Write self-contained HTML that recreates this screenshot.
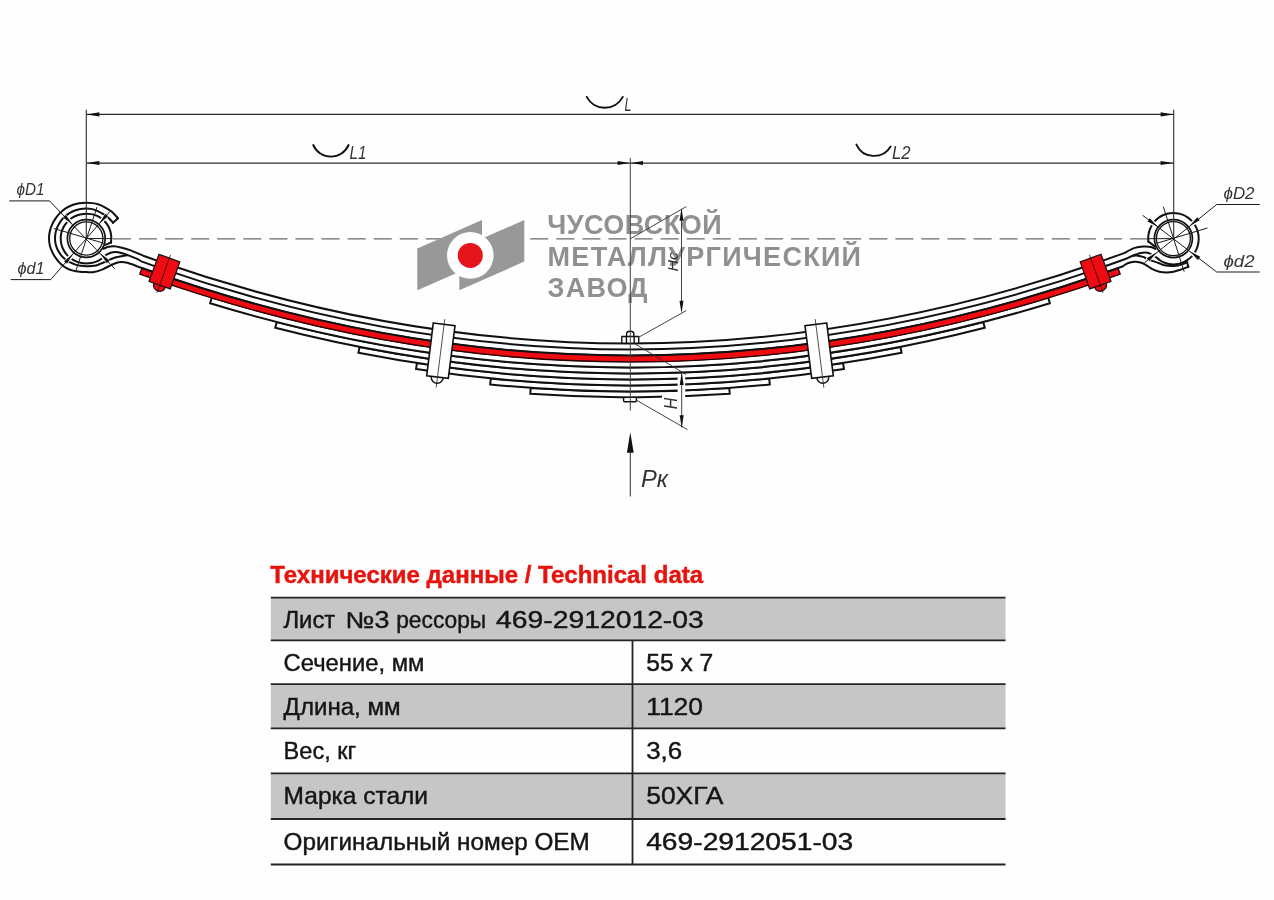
<!DOCTYPE html>
<html lang="ru"><head><meta charset="utf-8"><title>Лист №3 рессоры 469-2912012-03</title>
<style>
html,body{margin:0;padding:0;background:#fefefe;}
svg{display:block;font-family:"Liberation Sans","DejaVu Sans",sans-serif;}
svg{will-change:transform;}
</style></head><body>
<svg width="1274" height="900" viewBox="0 0 1274 900">
<rect width="1274" height="900" fill="#fefefe"/>
<g id="axis">
<line x1="112.9" y1="238.8" x2="1148" y2="238.8" stroke="#6a6a6a" stroke-width="1.35" stroke-dasharray="18.1 7.98"/>
</g>
<g id="logo">
<polygon points="417.3,248.4 482,220.1 482,262 417.3,290.2" fill="#989898"/>
<polygon points="459.3,248.4 524.3,220.1 524.3,261.6 459.3,290.2" fill="#989898"/>
<circle cx="470.3" cy="255.4" r="23.3" fill="#fefefe"/>
<circle cx="470.3" cy="255.4" r="12.5" fill="#e8141c"/>
<text x="547.2" y="234.4" font-size="27" font-weight="bold" font-style="normal" fill="#909090" textLength="174.4" lengthAdjust="spacing">ЧУСОВСКОЙ</text>
<text x="547.6" y="265.5" font-size="27" font-weight="bold" font-style="normal" fill="#909090" textLength="313.4" lengthAdjust="spacing">МЕТАЛЛУРГИЧЕСКИЙ</text>
<text x="547.6" y="296.8" font-size="27" font-weight="bold" font-style="normal" fill="#909090" textLength="100" lengthAdjust="spacing">ЗАВОД</text>
</g>
<g id="spring" stroke-linejoin="miter">
<path d="M530.71 387.88Q630 394.92 729.29 387.88L729.71 393.86Q630 400.94 530.29 393.86Z" fill="#fefefe" stroke="#111" stroke-width="2.0" />
<path d="M490.8 378.45Q630 392.35 769.2 378.45L769.8 384.42Q630 398.38 490.2 384.42Z" fill="#fefefe" stroke="#111" stroke-width="2.0" />
<path d="M416.96 363.04Q630 395.77 843.04 363.04L843.96 368.97Q630 401.84 416.04 368.97Z" fill="#fefefe" stroke="#111" stroke-width="2.0" />
<path d="M359.58 346.92Q630 399.89 900.42 346.92L901.58 352.81Q630 406 358.42 352.81Z" fill="#fefefe" stroke="#111" stroke-width="2.0" />
<path d="M276.75 322.02Q630 412.8 983.25 322.02L984.75 327.83Q630 419 275.25 327.83Z" fill="#fefefe" stroke="#111" stroke-width="2.0" />
<path d="M211.88 297.55Q630 425.29 1048.12 297.55L1049.88 303.28Q630 431.56 210.12 303.28Z" fill="#fefefe" stroke="#111" stroke-width="2.0" />
<path d="M132 251.64Q630 435.16 1128 251.64L1130.07 257.27Q630 441.56 129.93 257.27Z" fill="#fefefe" stroke="none" stroke-width="0.01" />
<path d="M129.93 257.27Q630 441.56 1130.07 257.27L1132.15 262.9Q630 447.95 127.85 262.9Z" fill="#fefefe" stroke="none" stroke-width="0.01" />
<path d="M142.05 267.95Q630 442.69 1117.95 267.95L1120.18 274.16Q630 449.7 139.82 274.16Z" fill="#ee0b12" stroke="#2a0000" stroke-width="1.3" />
</g>
<g id="eyes" fill="none" stroke="#111" stroke-width="2.0" stroke-linecap="round" stroke-linejoin="round">
<path d="M118.01 218.3C116.98 217.22 114.11 213.68 111.85 211.81C109.59 209.94 106.65 208.28 104.45 207.06C102.25 205.85 100.66 205.16 98.67 204.51C96.69 203.85 94.6 203.42 92.54 203.12C90.48 202.82 88.51 202.67 86.3 202.7C84.09 202.73 81.6 202.88 79.29 203.27C76.98 203.67 74.66 204.24 72.45 205.06C70.24 205.87 68.04 206.9 66.03 208.17C64.03 209.43 62.13 210.96 60.42 212.62C58.71 214.28 57.16 216.15 55.78 218.11C54.41 220.07 53.16 222.17 52.16 224.36C51.17 226.55 50.34 228.89 49.82 231.24C49.29 233.6 48.99 236.08 49 238.5C49.01 240.92 49.33 243.4 49.9 245.74C50.48 248.08 51.39 250.38 52.44 252.53C53.49 254.67 54.81 256.7 56.21 258.61C57.61 260.51 59.13 262.37 60.84 263.96C62.56 265.54 64.47 267.02 66.49 268.14C68.52 269.26 70.79 270.04 72.98 270.65C75.18 271.26 77.46 271.56 79.68 271.8C81.9 272.04 83.91 272.06 86.3 272.1C88.69 272.14 91.31 272.48 94.04 272.02C96.77 271.55 99.91 270.43 102.68 269.31C105.46 268.2 108.48 266.35 110.7 265.3C112.92 264.25 114.23 263.55 116 263C117.77 262.45 119.42 262.05 121.3 262C123.18 261.95 125.18 262.2 127.3 262.7C129.42 263.2 132.4 264.42 134 265C135.6 265.58 136.43 266.01 136.92 266.21L136.92 266.21Q147.49 270.04 158.07 273.7"/>
<path d="M112.98 222.72C112.21 221.89 110.04 219.18 108.35 217.72C106.66 216.26 104.62 215.07 102.85 213.96C101.09 212.85 99.53 211.88 97.76 211.07C95.98 210.26 94.1 209.55 92.19 209.11C90.28 208.66 88.26 208.43 86.3 208.4C84.34 208.37 82.35 208.58 80.42 208.93C78.49 209.29 76.56 209.82 74.71 210.53C72.87 211.23 71.06 212.12 69.37 213.16C67.68 214.21 66.06 215.43 64.59 216.79C63.13 218.15 61.76 219.68 60.58 221.32C59.41 222.95 58.37 224.74 57.54 226.59C56.72 228.44 56.07 230.42 55.65 232.4C55.22 234.39 54.99 236.47 55 238.5C55.01 240.53 55.26 242.62 55.74 244.58C56.21 246.54 56.96 248.49 57.87 250.28C58.78 252.06 59.94 253.76 61.2 255.27C62.46 256.79 63.92 258.16 65.44 259.36C66.96 260.56 68.62 261.59 70.29 262.46C71.97 263.33 73.74 264.02 75.5 264.58C77.26 265.14 79.07 265.53 80.87 265.8C82.67 266.07 84.58 266.15 86.3 266.2C88.02 266.25 89.53 266.22 91.17 266.1C92.8 265.97 94.5 265.86 96.11 265.45C97.71 265.03 99.15 264.27 100.8 263.61C102.45 262.96 104.25 262.27 106 261.5C107.75 260.73 109.63 259.7 111.3 259C112.97 258.3 114.43 257.75 116 257.3C117.57 256.85 119.37 256.55 120.7 256.3C122.03 256.05 122.87 255.98 124 255.8C125.13 255.62 126.92 255.3 127.5 255.2"/>
<path d="M118.01 218.3L112.98 222.72"/>
<path d="M110.92 242.84C110.99 242.04 111.33 239.66 111.32 238.06C111.3 236.47 111.13 234.85 110.82 233.29C110.51 231.72 110.04 230.16 109.43 228.68C108.83 227.2 108.06 225.75 107.18 224.42C106.29 223.09 105.27 221.82 104.12 220.68C102.97 219.54 101.64 218.48 100.27 217.6C98.89 216.72 97.39 215.98 95.87 215.4C94.35 214.82 92.74 214.4 91.15 214.12C89.56 213.84 87.92 213.7 86.3 213.7C84.68 213.7 83.05 213.85 81.46 214.15C79.87 214.44 78.28 214.89 76.76 215.48C75.25 216.07 73.77 216.81 72.38 217.67C71 218.54 69.68 219.56 68.48 220.68C67.29 221.8 66.17 223.07 65.22 224.41C64.27 225.76 63.42 227.23 62.76 228.75C62.09 230.26 61.56 231.89 61.22 233.51C60.88 235.14 60.7 236.84 60.7 238.5C60.7 240.16 60.88 241.86 61.21 243.49C61.55 245.12 62.07 246.74 62.73 248.26C63.39 249.78 64.22 251.27 65.17 252.62C66.12 253.97 67.22 255.25 68.41 256.39C69.6 257.53 70.93 258.56 72.31 259.44C73.69 260.32 75.18 261.08 76.7 261.68C78.22 262.28 79.82 262.74 81.42 263.04C83.02 263.35 84.64 263.5 86.3 263.5C87.96 263.5 89.71 263.36 91.37 263.06C93.04 262.75 94.72 262.3 96.29 261.66C97.86 261.02 99.31 260.28 100.81 259.22C102.31 258.16 103.65 256.39 105.3 255.3C106.95 254.21 108.92 253.25 110.7 252.7C112.48 252.15 114.23 251.95 116 252C117.77 252.05 119.42 252.5 121.3 253C123.18 253.5 124.85 254.1 127.3 255C129.75 255.9 133.56 257.29 136 258.4C138.44 259.51 140.97 261.11 141.97 261.65L141.97 261.65Q151 264.9 160.04 268.03"/>
<path d="M111.2 242.4L105.4 244.9"/>
<path d="M103.6 248.6C104.45 248.28 106.97 247.08 108.7 246.7C110.43 246.32 112 246.17 114 246.3C116 246.43 117.92 246.82 120.7 247.5C123.48 248.18 126.82 248.98 130.7 250.4C134.58 251.82 141.78 255.07 144 256.01L144 256.01Q153 259.24 162 262.36"/>
<circle cx="86.3" cy="238.5" r="18.9" stroke-width="1.7"/>
<circle cx="86.3" cy="238.5" r="16.6" stroke-width="1.3"/>
<path d="M158 260.97Q630 425.83 1102 260.97"/>
<path d="M156.02 266.63Q630 432.19 1103.98 266.63"/>
<path d="M154.04 272.3Q630 438.54 1105.96 272.3"/>
<path d="M1148.39 241.67C1148.37 240.78 1148.14 238.11 1148.28 236.35C1148.43 234.59 1148.76 232.8 1149.26 231.11C1149.77 229.41 1150.46 227.72 1151.31 226.16C1152.15 224.6 1153.18 223.09 1154.34 221.74C1155.5 220.38 1156.83 219.12 1158.25 218.03C1159.67 216.95 1161.25 215.99 1162.87 215.23C1164.5 214.48 1166.25 213.88 1168.01 213.49C1169.76 213.1 1171.67 212.91 1173.4 212.9C1175.13 212.89 1176.78 213.07 1178.41 213.41C1180.05 213.74 1181.68 214.26 1183.21 214.91C1184.75 215.56 1186.24 216.39 1187.61 217.33C1188.98 218.28 1190.28 219.38 1191.43 220.57C1192.59 221.76 1193.64 223.09 1194.54 224.48C1195.44 225.86 1196.21 227.36 1196.83 228.9C1197.44 230.43 1197.92 232.04 1198.23 233.66C1198.54 235.28 1198.7 236.95 1198.7 238.6C1198.7 240.25 1198.54 241.92 1198.23 243.54C1197.92 245.16 1197.45 246.78 1196.84 248.31C1196.23 249.84 1195.46 251.35 1194.56 252.74C1193.67 254.13 1192.62 255.47 1191.47 256.67C1190.31 257.86 1189.02 258.97 1187.65 259.92C1186.28 260.87 1184.78 261.71 1183.25 262.37C1181.71 263.03 1180.07 263.55 1178.43 263.89C1176.79 264.22 1174.98 264.39 1173.4 264.4C1171.82 264.41 1170.39 264.24 1168.93 263.96C1167.47 263.68 1166.02 263.23 1164.63 262.7C1163.24 262.17 1162.05 261.69 1160.6 260.77C1159.15 259.85 1157.73 258.43 1155.9 257.2C1154.07 255.97 1151.37 254.17 1149.6 253.4C1147.83 252.63 1146.95 252.62 1145.3 252.6C1143.65 252.58 1141.47 252.9 1139.7 253.3C1137.93 253.7 1136.97 254.09 1134.7 255C1132.43 255.91 1127.5 258.12 1126.06 258.74L1126.06 258.74Q1113.01 263.51 1099.96 268.03"/>
<path d="M1148.39 241.67L1155.2 246.6"/>
<path d="M1155.4 248.9C1154.67 248.58 1152.92 247.4 1151 247C1149.08 246.6 1146.62 246.35 1143.9 246.5C1141.18 246.65 1138.02 246.8 1134.7 247.9C1131.38 249 1125.78 252.24 1124 253.11L1124 253.11Q1111 257.86 1098 262.36"/>
<path d="M1187 262.16C1186.29 262.49 1184.19 263.63 1182.71 264.18C1181.23 264.73 1179.69 265.17 1178.14 265.46C1176.58 265.75 1174.99 265.85 1173.4 265.9C1171.81 265.95 1170.21 265.91 1168.61 265.78C1167 265.65 1165.33 265.52 1163.76 265.1C1162.18 264.68 1160.93 263.95 1159.15 263.28C1157.37 262.62 1155.29 261.93 1153.1 261.1C1150.91 260.27 1147.65 259 1146 258.3C1144.35 257.6 1144.73 257.35 1143.2 256.9C1141.67 256.45 1138.42 255.85 1136.8 255.6C1135.18 255.35 1134.05 255.43 1133.5 255.4"/>
<path d="M1188.4 266.7C1187.1 267.18 1183.07 268.77 1180.6 269.6C1178.13 270.43 1175.95 271.23 1173.6 271.7C1171.25 272.17 1168.87 272.4 1166.5 272.4C1164.13 272.4 1161.75 272.23 1159.4 271.7C1157.05 271.17 1154.75 270.38 1152.4 269.2C1150.05 268.02 1147.3 265.72 1145.3 264.6C1143.3 263.48 1142.17 262.97 1140.4 262.5C1138.63 262.03 1136.82 261.68 1134.7 261.8C1132.58 261.92 1129.64 262.47 1127.7 263.2C1125.76 263.93 1123.85 265.71 1123.08 266.21L1123.08 266.21Q1112.51 270.04 1101.93 273.7"/>
<path d="M1187 262.16L1188.4 266.7"/>
<circle cx="1173.4" cy="238.6" r="19" stroke-width="1.7"/>
<circle cx="1173.4" cy="238.6" r="17" stroke-width="1.3"/>
</g>
<g id="clamps" stroke="#111" stroke-linejoin="miter">
<ellipse cx="159.3" cy="286.2" rx="6" ry="5" transform="rotate(20 159.3 286.2)" fill="#ee0b12" stroke-width="1.2"/>
<polygon points="159,254.2 179.8,261.9 170.3,288.9 149,281.5" fill="#ee0b12" stroke-width="1.2"/>
<line x1="170.57" y1="254.79" x2="156.92" y2="292.8" stroke="#300" stroke-width="0.8" />
<ellipse cx="1100.7" cy="286.2" rx="6" ry="5" transform="rotate(-20 1100.7 286.2)" fill="#ee0b12" stroke-width="1.2"/>
<polygon points="1101,254.2 1080.2,261.9 1089.7,288.9 1111,281.5" fill="#ee0b12" stroke-width="1.2"/>
<line x1="1089.43" y1="254.79" x2="1103.08" y2="292.8" stroke="#300" stroke-width="0.8" />
<circle cx="437.2" cy="377.3" r="6" fill="#fefefe" stroke-width="1.4"/>
<polygon points="433.3,323 455,325.8 448.3,378.3 426.7,375.8" fill="#fefefe" stroke-width="1.6"/>
<line x1="444.81" y1="319.13" x2="436.17" y2="387.58" stroke="#222" stroke-width="0.8" />
<circle cx="822.8" cy="377.3" r="6" fill="#fefefe" stroke-width="1.4"/>
<polygon points="826.7,323 805,325.8 811.7,378.3 833.3,375.8" fill="#fefefe" stroke-width="1.6"/>
<line x1="815.19" y1="319.13" x2="823.83" y2="387.58" stroke="#222" stroke-width="0.8" />
</g>
<g id="bolt" fill="#fefefe" stroke="#111" stroke-width="1.4" stroke-linejoin="round">
<path d="M626.6 336.5V333.6Q626.6 331.2 630.2 331.2Q633.8 331.2 633.8 333.6V336.5"/>
<rect x="621.8" y="336.5" width="16.9" height="6.8"/>
<path d="M626.4 336.5V343.3M634.2 336.5V343.3" fill="none"/>
<rect x="623.6" y="397.4" width="12.8" height="4.4" rx="1"/>
</g>
<g id="dims" stroke-linecap="butt">
<line x1="86.3" y1="109.7" x2="86.3" y2="238.5" stroke="#2e2e2e" stroke-width="1.1" />
<line x1="1173.7" y1="109.7" x2="1173.7" y2="238.6" stroke="#2e2e2e" stroke-width="1.1" />
<line x1="86.3" y1="114.4" x2="1173.7" y2="114.4" stroke="#2e2e2e" stroke-width="1.2" />
<line x1="86.3" y1="163.1" x2="1173.7" y2="163.1" stroke="#2e2e2e" stroke-width="1.2" />
<polygon points="86.6,114.4 99.4,112.3 99.4,116.5" fill="#111"/>
<polygon points="1173.4,114.4 1160.6,116.5 1160.6,112.3" fill="#111"/>
<polygon points="86.6,163 99.4,160.9 99.4,165.1" fill="#111"/>
<polygon points="1173.4,163 1160.6,165.1 1160.6,160.9" fill="#111"/>
<polygon points="629.8,163 617.6,164.9 617.6,161.1" fill="#111"/>
<polygon points="630.8,163 643,161.1 643,164.9" fill="#111"/>
<line x1="630.3" y1="157.8" x2="630.3" y2="410.5" stroke="#444" stroke-width="1.0" />
<line x1="630.3" y1="440" x2="630.3" y2="496.5" stroke="#2e2e2e" stroke-width="1.0" />
<polygon points="630.3,432.2 633.7,452.7 626.9,452.7" fill="#111"/>
<line x1="630.3" y1="238.8" x2="686.3" y2="206.6" stroke="#2e2e2e" stroke-width="0.9" />
<line x1="638.6" y1="337.3" x2="686.3" y2="310.6" stroke="#2e2e2e" stroke-width="0.9" />
<line x1="681.5" y1="209" x2="681.5" y2="311" stroke="#2e2e2e" stroke-width="0.9" />
<polygon points="681.5,208.2 683.5,220.7 679.5,220.7" fill="#111"/>
<polygon points="681.5,313.2 679.5,300.7 683.5,300.7" fill="#111"/>
<rect x="677.6" y="375.5" width="7.6" height="23" fill="#fefefe"/>
<rect x="662" y="394.4" width="16" height="5" fill="#fefefe"/>
<line x1="634.5" y1="343.6" x2="686" y2="374.4" stroke="#2e2e2e" stroke-width="0.9" />
<line x1="636.5" y1="400.2" x2="687.5" y2="429.6" stroke="#2e2e2e" stroke-width="0.9" />
<line x1="681.7" y1="374" x2="681.7" y2="427.5" stroke="#2e2e2e" stroke-width="0.9" />
<polygon points="681.7,372.4 683.7,384.9 679.7,384.9" fill="#111"/>
<polygon points="681.7,427.8 679.7,415.3 683.7,415.3" fill="#111"/>
<path d="M313.2 145A19.3 19.3 0 0 0 348.6 145" fill="none" stroke="#111" stroke-width="1.9" stroke-linecap="round"/>
<path d="M586.7 96.9A20.4 20.4 0 0 0 622.8 96.9" fill="none" stroke="#111" stroke-width="1.9" stroke-linecap="round"/>
<path d="M856.4 144.6A19.3 19.3 0 0 0 890.6 146.4" fill="none" stroke="#111" stroke-width="1.9" stroke-linecap="round"/>
<line x1="71.33" y1="223.21" x2="63.29" y2="214.99" stroke="#fefefe" stroke-width="4.6"/>
<line x1="100.16" y1="222.59" x2="107.72" y2="213.92" stroke="#fefefe" stroke-width="4.6"/>
<line x1="72.09" y1="254.9" x2="64.56" y2="263.59" stroke="#fefefe" stroke-width="4.6"/>
<line x1="101.44" y1="254.6" x2="109.32" y2="262.98" stroke="#fefefe" stroke-width="4.6"/>
<line x1="1190.68" y1="224.99" x2="1199.72" y2="217.87" stroke="#fefefe" stroke-width="4.6"/>
<line x1="1156.59" y1="225.84" x2="1147.43" y2="218.89" stroke="#fefefe" stroke-width="4.6"/>
<line x1="1191.14" y1="252.28" x2="1200.24" y2="259.31" stroke="#fefefe" stroke-width="4.6"/>
<line x1="1155.7" y1="253.29" x2="1146.85" y2="260.63" stroke="#fefefe" stroke-width="4.6"/>
<line x1="49.5" y1="200.9" x2="114.7" y2="268.7" stroke="#1c1c1c" stroke-width="1"/>
<line x1="50.7" y1="279.6" x2="110" y2="211.3" stroke="#1c1c1c" stroke-width="1"/>
<line x1="9.3" y1="200.9" x2="49.5" y2="200.9" stroke="#1c1c1c" stroke-width="1"/>
<line x1="10.7" y1="279.6" x2="50.7" y2="279.6" stroke="#1c1c1c" stroke-width="1"/>
<line x1="97" y1="207" x2="75.5" y2="272" stroke="#1c1c1c" stroke-width="1"/>
<line x1="54" y1="228.5" x2="104" y2="243.3" stroke="#1c1c1c" stroke-width="1"/>
<line x1="86.3" y1="238.5" x2="112" y2="238.6" stroke="#1c1c1c" stroke-width="1"/>
<line x1="1142.7" y1="215.3" x2="1216.7" y2="272" stroke="#1c1c1c" stroke-width="1"/>
<line x1="1216.7" y1="204.5" x2="1144.6" y2="262.5" stroke="#1c1c1c" stroke-width="1"/>
<line x1="1216.7" y1="204.5" x2="1259.7" y2="204.5" stroke="#1c1c1c" stroke-width="1"/>
<line x1="1216.7" y1="272" x2="1259.7" y2="272" stroke="#1c1c1c" stroke-width="1"/>
<line x1="1163.3" y1="206.7" x2="1184.2" y2="271.7" stroke="#1c1c1c" stroke-width="1"/>
<line x1="1156.7" y1="243.3" x2="1207.5" y2="228" stroke="#1c1c1c" stroke-width="1"/>
<line x1="1148" y1="238.7" x2="1173.4" y2="238.6" stroke="#1c1c1c" stroke-width="1"/>
<polygon points="72.38,224.28 62.91,217.46 65.77,214.66" fill="#111"/>
<polygon points="99.18,223.72 105.22,213.74 108.24,216.37" fill="#111"/>
<polygon points="73.07,253.77 67.06,263.77 64.03,261.15" fill="#111"/>
<polygon points="100.41,253.51 109.75,260.51 106.83,263.25" fill="#111"/>
<polygon points="1189.51,225.92 1197.3,217.23 1199.78,220.37" fill="#111"/>
<polygon points="1157.79,226.75 1147.42,221.39 1149.84,218.21" fill="#111"/>
<polygon points="1189.95,251.37 1200.28,256.81 1197.83,259.97" fill="#111"/>
<polygon points="1156.86,252.33 1149.28,261.21 1146.73,258.13" fill="#111"/>
</g>
<g id="labels" font-style="italic" fill="#1a1a1a">
<text x="349.5" y="158.9" font-size="18.5" font-weight="normal" font-style="italic" fill="#333" textLength="17" lengthAdjust="spacingAndGlyphs" >L1</text>
<text x="891.9" y="158.8" font-size="18.5" font-weight="normal" font-style="italic" fill="#333" textLength="18.5" lengthAdjust="spacingAndGlyphs" >L2</text>
<text x="624.6" y="110.6" font-size="18.5" font-weight="normal" font-style="italic" fill="#333" textLength="7" lengthAdjust="spacingAndGlyphs" >L</text>
<text x="16.5" y="195.3" font-size="16.5" font-weight="normal" font-style="italic" fill="#333" textLength="28" lengthAdjust="spacingAndGlyphs" >ϕD1</text>
<text x="17.5" y="274.3" font-size="16.5" font-weight="normal" font-style="italic" fill="#333" textLength="27" lengthAdjust="spacingAndGlyphs" >ϕd1</text>
<text x="1223.5" y="199.2" font-size="16.5" font-weight="normal" font-style="italic" fill="#333" textLength="31" lengthAdjust="spacingAndGlyphs" >ϕD2</text>
<text x="1223.5" y="266.7" font-size="16.5" font-weight="normal" font-style="italic" fill="#333" textLength="31" lengthAdjust="spacingAndGlyphs" >ϕd2</text>
<text x="641" y="487.2" font-size="24" font-weight="normal" font-style="italic" fill="#333" textLength="27" lengthAdjust="spacingAndGlyphs" >Pк</text>
<text x="677.6" y="271.6" font-size="14.5" font-weight="normal" font-style="italic" fill="#333" textLength="19.5" lengthAdjust="spacingAndGlyphs" transform="rotate(-90 677.6 271.6)">Hc</text>
<text x="677.3" y="409.3" font-size="17.5" font-weight="normal" font-style="italic" fill="#333" textLength="11.5" lengthAdjust="spacingAndGlyphs" transform="rotate(-90 677.3 409.3)">H</text>
</g>
<g id="table">
<text x="270.3" y="583.2" font-size="24" font-weight="bold" font-style="normal" fill="#e6140f" textLength="432.8" lengthAdjust="spacingAndGlyphs" stroke="#e6140f" stroke-width="0.45">Технические данные / Technical data</text>
<rect x="270.8" y="597.6" width="734.7" height="42.7" fill="#c6c6c6"/>
<rect x="270.8" y="684.2" width="734.7" height="44.1" fill="#c6c6c6"/>
<rect x="270.8" y="773.3" width="734.7" height="45.7" fill="#c6c6c6"/>
<line x1="270.8" y1="597.6" x2="1005.5" y2="597.6" stroke="#242424" stroke-width="1.8" />
<line x1="270.8" y1="640.3" x2="1005.5" y2="640.3" stroke="#242424" stroke-width="1.8" />
<line x1="270.8" y1="684.2" x2="1005.5" y2="684.2" stroke="#242424" stroke-width="1.8" />
<line x1="270.8" y1="728.3" x2="1005.5" y2="728.3" stroke="#242424" stroke-width="1.8" />
<line x1="270.8" y1="773.3" x2="1005.5" y2="773.3" stroke="#242424" stroke-width="1.8" />
<line x1="270.8" y1="819" x2="1005.5" y2="819" stroke="#242424" stroke-width="1.8" />
<line x1="270.8" y1="864.5" x2="1005.5" y2="864.5" stroke="#242424" stroke-width="1.8" />
<line x1="632.5" y1="640.3" x2="632.5" y2="864.5" stroke="#242424" stroke-width="1.8" />
<text y="628.3" font-size="23" fill="#151515" stroke="#151515" stroke-width="0.4"><tspan x="283.4" textLength="51.9" lengthAdjust="spacingAndGlyphs">Лист</tspan> <tspan x="345.6" textLength="43.8" lengthAdjust="spacingAndGlyphs">№3</tspan> <tspan x="396.2" textLength="90" lengthAdjust="spacingAndGlyphs">рессоры</tspan> <tspan x="496" textLength="207.8" lengthAdjust="spacingAndGlyphs">469-2912012-03</tspan></text>
<text x="283.6" y="670.9" font-size="23" font-weight="normal" font-style="normal" fill="#151515" textLength="140.8" lengthAdjust="spacingAndGlyphs" stroke="#151515" stroke-width="0.4">Сечение, мм</text>
<text x="646.2" y="670.9" font-size="23" font-weight="normal" font-style="normal" fill="#151515" textLength="67.1" lengthAdjust="spacingAndGlyphs" stroke="#151515" stroke-width="0.4">55 x 7</text>
<text x="283.6" y="715" font-size="23" font-weight="normal" font-style="normal" fill="#151515" textLength="117" lengthAdjust="spacingAndGlyphs" stroke="#151515" stroke-width="0.4">Длина, мм</text>
<text x="646.2" y="715" font-size="23" font-weight="normal" font-style="normal" fill="#151515" textLength="56.8" lengthAdjust="spacingAndGlyphs" stroke="#151515" stroke-width="0.4">1120</text>
<text x="283.6" y="758.8" font-size="23" font-weight="normal" font-style="normal" fill="#151515" textLength="72.6" lengthAdjust="spacingAndGlyphs" stroke="#151515" stroke-width="0.4">Вес, кг</text>
<text x="646.2" y="758.8" font-size="23" font-weight="normal" font-style="normal" fill="#151515" textLength="36" lengthAdjust="spacingAndGlyphs" stroke="#151515" stroke-width="0.4">3,6</text>
<text x="283.6" y="804.2" font-size="23" font-weight="normal" font-style="normal" fill="#151515" textLength="144.4" lengthAdjust="spacingAndGlyphs" stroke="#151515" stroke-width="0.4">Марка стали</text>
<text x="646.2" y="804.2" font-size="23" font-weight="normal" font-style="normal" fill="#151515" textLength="77.3" lengthAdjust="spacingAndGlyphs" stroke="#151515" stroke-width="0.4">50ХГА</text>
<text x="283.6" y="849.8" font-size="23" font-weight="normal" font-style="normal" fill="#151515" textLength="306.2" lengthAdjust="spacingAndGlyphs" stroke="#151515" stroke-width="0.4">Оригинальный номер OEM</text>
<text x="646.2" y="849.8" font-size="23" font-weight="normal" font-style="normal" fill="#151515" textLength="207" lengthAdjust="spacingAndGlyphs" stroke="#151515" stroke-width="0.4">469-2912051-03</text>
</g>
</svg>
</body></html>
